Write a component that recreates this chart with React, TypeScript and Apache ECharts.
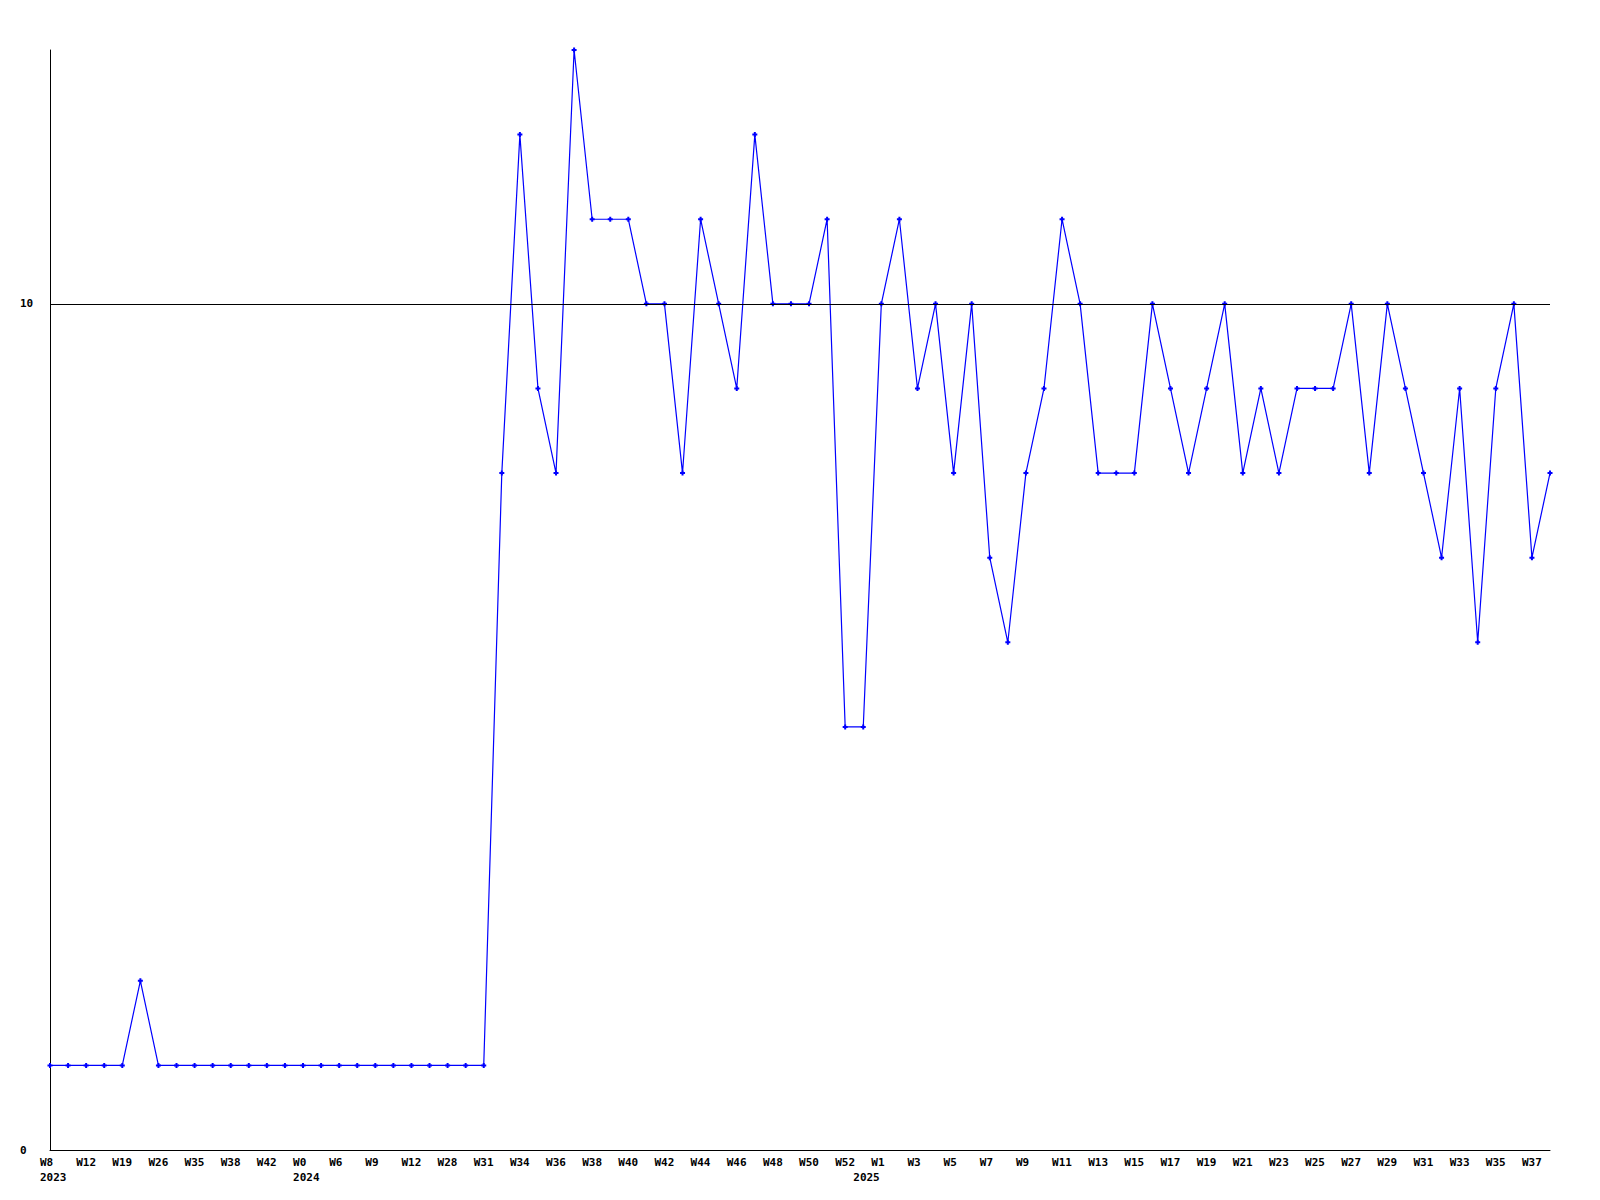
import React, { useEffect, useRef } from "react";
import * as echarts from "echarts";

const weeks: string[] = [
  "W8", "W10", "W12", "W15", "W19", "W22", "W26", "W30", "W35", "W36", "W38", "W40", "W42", "W45",
  "W0", "W3", "W6", "W7", "W9", "W10", "W12", "W20", "W28", "W30", "W31", "W33", "W34", "W35", "W36", "W37",
  "W38", "W39", "W40", "W41", "W42", "W43", "W44", "W45", "W46", "W47", "W48", "W49", "W50", "W51", "W52",
  "W0", "W1", "W2", "W3", "W4", "W5", "W6", "W7", "W8", "W9", "W10", "W11", "W12", "W13", "W14", "W15",
  "W16", "W17", "W18", "W19", "W20", "W21", "W22", "W23", "W24", "W25", "W26", "W27", "W28", "W29", "W30",
  "W31", "W32", "W33", "W34", "W35", "W36", "W37", "W38",
];

const years: string[] = [
  ...Array(14).fill("2023"),
  ...Array(31).fill("2024"),
  ...Array(39).fill("2025"),
];

const values: number[] = [
  1, 1, 1, 1, 1, 2, 1, 1, 1, 1, 1, 1, 1, 1,
  1, 1, 1, 1, 1, 1, 1, 1, 1, 1, 1, 8, 12, 9, 8, 13, 11, 11, 11, 10, 10, 8, 11, 10, 9, 12, 10, 10, 10, 11, 5,
  5, 10, 11, 9, 10, 8, 10, 7, 6, 8, 9, 11, 10, 8, 8, 8, 10, 9, 8, 9, 10, 8, 9, 8, 9, 9, 9, 10, 8, 10, 9, 8,
  7, 9, 6, 9, 10, 7, 8,
];

const yTicks: number[] = [0, 10];
const refLine = 10;

const FONT = "'DejaVu Sans Mono', monospace";

export default function App() {
  const ref = useRef<HTMLDivElement>(null);
  useEffect(() => {
    document.body.style.margin = "0";
    const chart = echarts.init(ref.current!, null, { renderer: "svg" });
    const cats = weeks.map((w, i) => String(i));
    const labelStyle = {
      fontFamily: FONT,
      fontWeight: "bold" as const,
      fontSize: 11,
      color: "#000",
    };
    chart.setOption({
      animation: false,
      backgroundColor: "#fff",
      grid: { left: 50, right: 50, top: 50, bottom: 50, containLabel: false },
      xAxis: [
        {
          type: "category",
          data: cats,
          boundaryGap: false,
          axisLine: { lineStyle: { color: "#000", width: 1 } },
          axisTick: { show: false },
          splitLine: { show: false },
          axisLabel: {
            interval: 1,
            margin: 7,
            formatter: (v: string) => `{a|${weeks[Number(v)]}}`,
            rich: { a: { ...labelStyle, width: 20, align: "left" } },
          },
        },
        {
          type: "category",
          data: cats,
          position: "bottom",
          offset: 15,
          boundaryGap: false,
          axisLine: { show: false },
          axisTick: { show: false },
          splitLine: { show: false },
          axisLabel: {
            interval: 0,
            margin: 7,
            formatter: (v: string) => {
              const i = Number(v);
              if (i === 0 || years[i] !== years[i - 1]) return `{a|${years[i]}}`;
              return "";
            },
            rich: { a: { ...labelStyle, width: 20, align: "left" } },
          },
        },
      ],
      yAxis: {
        type: "value",
        min: 0,
        max: 13,
        interval: 10,
        axisLine: { show: true, lineStyle: { color: "#000", width: 1 } },
        axisTick: { show: false },
        splitLine: { show: false },
        axisLabel: {
          ...labelStyle,
          align: "left",
          margin: 30,
          showMaxLabel: false,
          formatter: (v: number) => (yTicks.includes(v) ? String(v) : ""),
        },
      },
      series: [
        {
          type: "line",
          data: values,
          xAxisIndex: 0,
          color: "#0000ff",
          lineStyle: { color: "#0000ff", width: 1.2 },
          itemStyle: { color: "#0000ff", borderWidth: 0 },
          symbol: "path://M1.5,0H3.5V1.5H5V3.5H3.5V5H1.5V3.5H0V1.5H1.5Z",
          symbolSize: 5,
          showSymbol: true,
          markLine: {
            silent: true,
            symbol: ["none", "none"],
            label: { show: false },
            lineStyle: { color: "#000", width: 1, type: "solid" },
            data: [{ yAxis: refLine }],
          },
        },
      ],
    });
    return () => chart.dispose();
  }, []);
  return <div ref={ref} style={{ width: 1600, height: 1200 }} />;
}
